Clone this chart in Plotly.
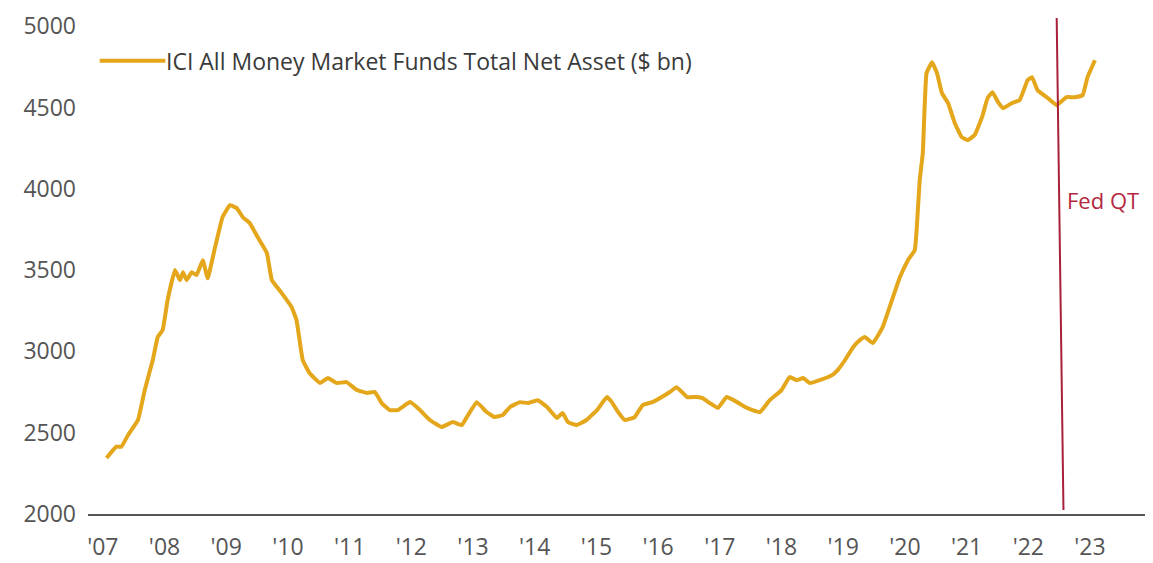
import plotly.graph_objects as go

# Decimal-year positions and ICI money market fund total net assets ($ bn)
years = [
    2007.06, 2007.22, 2007.30, 2007.41, 2007.57, 2007.68, 2007.81, 2007.89, 2007.97,
    2008.05, 2008.17, 2008.25, 2008.30, 2008.36, 2008.44, 2008.52, 2008.62, 2008.70, 2008.82, 2008.94,
    2009.06, 2009.17, 2009.27, 2009.38, 2009.51, 2009.66, 2009.74, 2009.90,
    2010.06, 2010.14, 2010.24, 2010.35, 2010.52, 2010.65, 2010.79, 2010.95,
    2011.12, 2011.28, 2011.41, 2011.52, 2011.65, 2011.78, 2011.98,
    2012.14, 2012.30, 2012.49, 2012.67, 2012.82, 2012.90,
    2013.06, 2013.22, 2013.35, 2013.48, 2013.60, 2013.76, 2013.89,
    2014.05, 2014.20, 2014.36, 2014.45, 2014.54, 2014.68, 2014.84,
    2015.01, 2015.17, 2015.25, 2015.33, 2015.46, 2015.62, 2015.75, 2015.91,
    2016.06, 2016.19, 2016.30, 2016.47, 2016.63, 2016.72, 2016.84, 2016.97,
    2017.11, 2017.28, 2017.41, 2017.53, 2017.65, 2017.81,
    2018.00, 2018.13, 2018.25, 2018.35, 2018.46, 2018.62, 2018.82, 2018.91,
    2019.03, 2019.16, 2019.27, 2019.35, 2019.48, 2019.64, 2019.79, 2019.92,
    2020.05, 2020.16, 2020.19, 2020.24, 2020.29, 2020.35, 2020.44, 2020.52, 2020.60,
    2020.70, 2020.81, 2020.92,
    2021.02, 2021.13, 2021.25, 2021.34, 2021.42, 2021.51, 2021.59, 2021.73, 2021.86, 2021.99,
    2022.06, 2022.15, 2022.30, 2022.46, 2022.62, 2022.75, 2022.88, 2022.96,
    2023.08,
]
assets = [
    2344, 2414, 2414, 2486, 2578, 2762, 2947, 3088, 3131,
    3315, 3500, 3438, 3487, 3438, 3487, 3469, 3561, 3450, 3641, 3825,
    3899, 3881, 3825, 3789, 3703, 3604, 3438, 3358,
    3272, 3192, 2947, 2867, 2805, 2836, 2805, 2811,
    2762, 2744, 2750, 2682, 2639, 2639, 2688,
    2639, 2578, 2535, 2565, 2547, 2596,
    2688, 2627, 2596, 2608, 2658, 2688, 2682,
    2700, 2658, 2590, 2621, 2565, 2547, 2578,
    2639, 2719, 2688, 2639, 2578, 2596, 2670, 2688,
    2719, 2750, 2780, 2719, 2719, 2713, 2682, 2652,
    2719, 2688, 2658, 2639, 2627, 2700,
    2762, 2842, 2823, 2836, 2805, 2823, 2854, 2885,
    2947, 3026, 3069, 3088, 3051, 3149, 3315, 3457,
    3561, 3623, 3746, 4053, 4219, 4711, 4778, 4711, 4588,
    4526, 4403, 4317,
    4299, 4330, 4440, 4557, 4594, 4532, 4495, 4526, 4545, 4668,
    4686, 4606, 4563, 4514, 4563, 4563, 4575, 4686,
    4790,
]

tick_years = list(range(2007, 2024))
tick_labels = ["'%02d" % (y % 100) for y in tick_years]
y_ticks = [2000, 2500, 3000, 3500, 4000, 4500, 5000]

series_name = "ICI All Money Market Funds Total Net Asset ($ bn)"
qt_start = 2022.46
qt_label = "Fed QT"

LINE = "#E4A61B"
RED = "#A8203A"
FONT = "Open Sans"

fig = go.Figure()
fig.add_trace(go.Scatter(
    x=years, y=assets, mode="lines", name=series_name,
    line=dict(color=LINE, width=4, shape="spline", smoothing=0.3),
    showlegend=False,
))

# Fed QT marker
fig.add_shape(type="line", xref="x", yref="y",
              x0=qt_start, x1=qt_start + 0.11, y0=5050, y1=2025,
              line=dict(color=RED, width=2))
fig.add_annotation(x=qt_start + 0.14, y=3930, xref="x", yref="y",
                   text=qt_label, showarrow=False, xanchor="left", yanchor="middle",
                   font=dict(family=FONT, size=22, color="#B3283E"))

# Legend (drawn manually to match the long sample line)
fig.add_shape(type="line", xref="paper", yref="paper",
              x0=0.011, x1=0.073, y0=0.914, y1=0.914,
              line=dict(color=LINE, width=4))
fig.add_annotation(x=0.072, y=0.914, xref="paper", yref="paper",
                   text=series_name, showarrow=False, xanchor="left", yanchor="middle",
                   font=dict(family=FONT, size=23, color="#3a3a3a"))

fig.update_layout(
    width=1145, height=555,
    margin=dict(l=80, r=5, t=10, b=49),
    paper_bgcolor="white", plot_bgcolor="white",
    font=dict(family=FONT, size=23, color="#555555"),
    xaxis=dict(range=[2006.76, 2023.94], tickmode="array",
               tickvals=tick_years, ticktext=tick_labels,
               showgrid=False, zeroline=False, showline=True,
               linecolor="#555555", linewidth=2, ticks="",
               ticklabelstandoff=11, automargin=False),
    yaxis=dict(range=[2000, 5050], tickmode="array", tickvals=y_ticks,
               showgrid=False, zeroline=False, showline=False, ticks="",
               ticklabelstandoff=11, automargin=False),
)

fig.write_html("out.html")
